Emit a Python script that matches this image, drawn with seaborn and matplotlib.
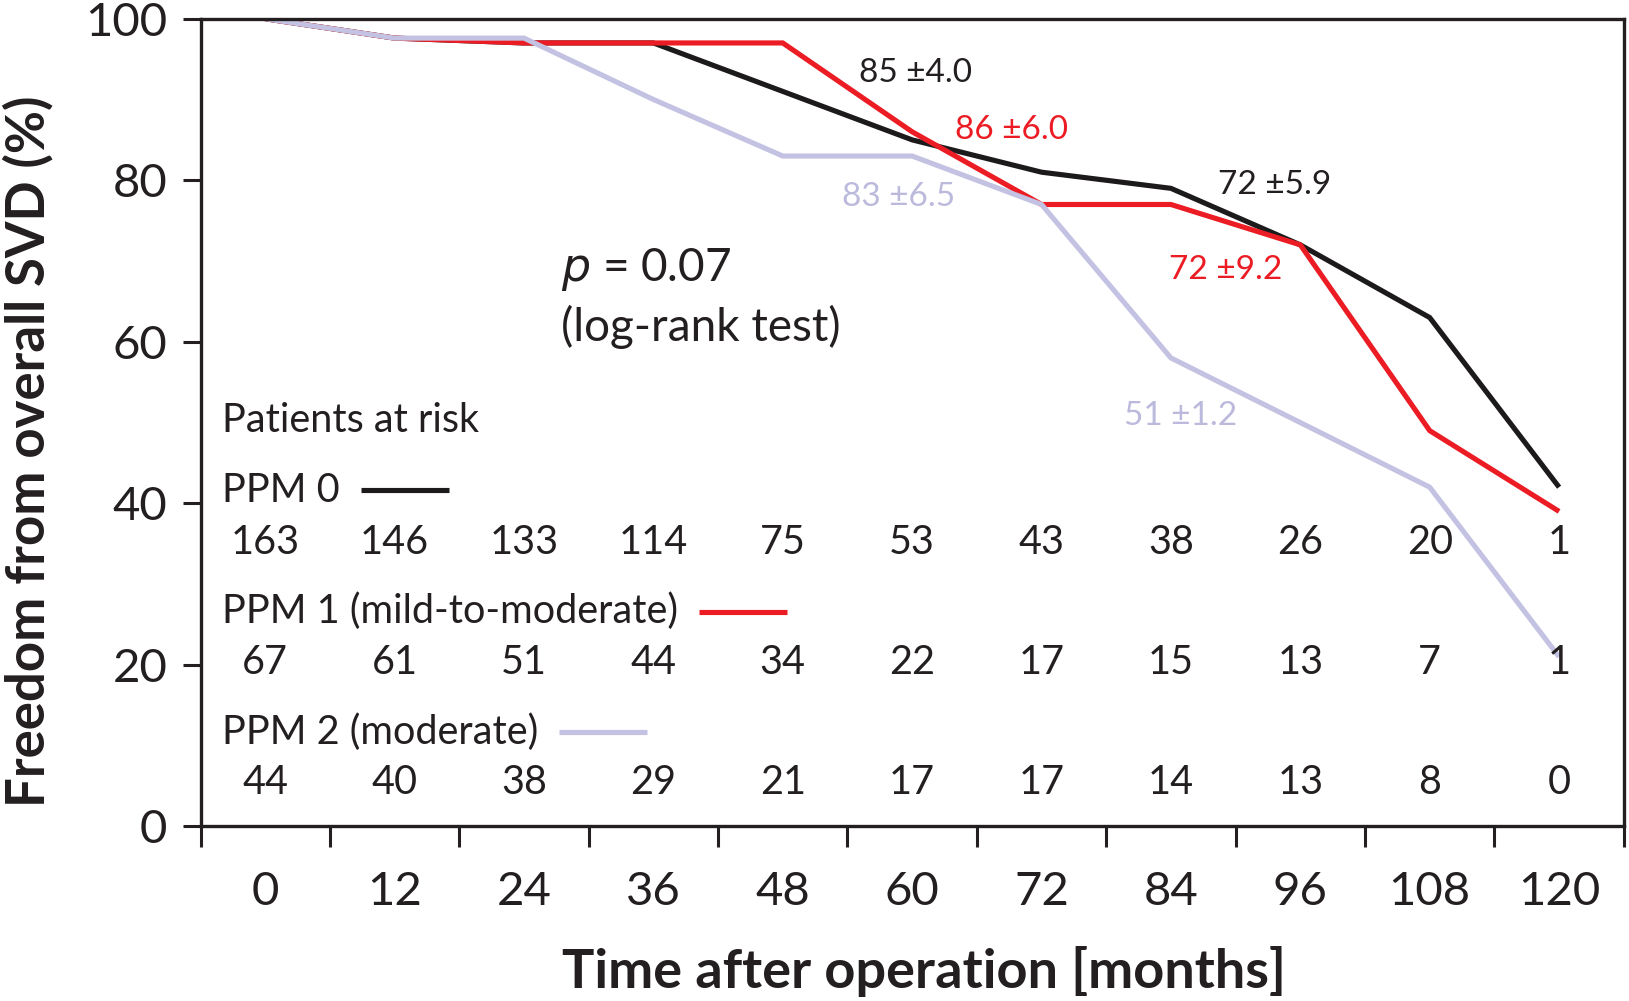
import matplotlib
matplotlib.use("Agg")
import matplotlib.pyplot as plt
import numpy as np
import pandas as pd
import seaborn as sns
from matplotlib.lines import Line2D

# ---------------- data ----------------
months = [0, 12, 24, 36, 48, 60, 72, 84, 96, 108, 120]
ppm0 = [100, 97.6, 97.0, 97.0, 91, 85, 81, 79, 72, 63, 42]
ppm1 = [100, 97.6, 97.0, 97.0, 97, 86, 77, 77, 72, 49, 39]
ppm2 = [100, 97.6, 97.6, 90, 83, 83, 77, 58, 50, 42, 21]
groups = ["PPM 0", "PPM 1 (mild-to-moderate)", "PPM 2 (moderate)"]

risk0 = [163, 146, 133, 114, 75, 53, 43, 38, 26, 20, 1]
risk1 = [67, 61, 51, 44, 34, 22, 17, 15, 13, 7, 1]
risk2 = [44, 40, 38, 29, 21, 17, 17, 14, 13, 8, 0]

y_ticks = [0, 20, 40, 60, 80, 100]
x_ticks = months

ann_text = ["85 \u00b14.0", "86 \u00b16.0", "83 \u00b16.5", "72 \u00b15.9", "72 \u00b19.2", "51 \u00b11.2"]
ann_x = [60.3, 69.2, 58.7, 93.6, 89.1, 84.9]
ann_y = [93.3, 86.2, 77.9, 79.4, 68.9, 50.8]
ann_group = [0, 1, 2, 0, 1, 2]

line_colors = ["#1c1a1b", "#ec1c24", "#c4c2e2"]
text_colors = ["#231f20", "#ec1c24", "#bcbadc"]

# ---------------- figure ----------------
sns.set_style("white")
plt.rcParams["font.family"] = ["Lato", "DejaVu Sans"]

fig, ax = plt.subplots(figsize=(16.29, 10.01), dpi=100)
fig.subplots_adjust(left=0.1231, right=0.9968, bottom=0.1744, top=0.9813)

df = pd.DataFrame({
    "month": months * 3,
    "value": ppm0 + ppm1 + ppm2,
    "group": [groups[0]] * len(months) + [groups[1]] * len(months) + [groups[2]] * len(months),
})
draw_order = [groups[0], groups[1], groups[2]]
sns.lineplot(data=df, x="month", y="value", hue="group", hue_order=draw_order,
             palette=dict(zip(groups, line_colors)), estimator=None, sort=False,
             linewidth=3.7, legend=False, ax=ax)
for ln in ax.lines:
    ln.set_solid_joinstyle("miter")
    ln.set_solid_capstyle("butt")

ax.set_xlim(-6, 126)
ax.set_ylim(0, 100)

# spines
for s in ax.spines.values():
    s.set_visible(True)
    s.set_linewidth(2.4)
    s.set_color("#231f20")

# ticks
ax.set_yticks(y_ticks)
ax.set_yticklabels([str(v) for v in y_ticks])
ax.tick_params(axis="y", direction="out", length=13, width=2.2, pad=11,
               labelsize=34, colors="#231f20", left=True)
ax.set_xticks(x_ticks)
ax.set_xticklabels([str(v) for v in x_ticks])
ax.set_xticks(np.arange(-6, 127, 12), minor=True)
ax.tick_params(axis="x", which="major", length=0, pad=32, labelsize=34, colors="#231f20")
ax.tick_params(axis="x", which="minor", direction="out", length=15, width=2.2,
               color="#231f20", bottom=True)

ax.set_xlabel("Time after operation [months]", fontsize=39, fontweight="bold", color="#231f20")
ax.set_ylabel("Freedom from overall SVD (%)", fontsize=38, fontweight="bold", color="#231f20")
ax.xaxis.set_label_coords(0.508, -0.148)
ax.yaxis.set_label_coords(-0.103, 0.465)

# survival annotations
for t, x, y, g in zip(ann_text, ann_x, ann_y, ann_group):
    ax.text(x, y, t, fontsize=24, color=text_colors[g], ha="center", va="center")

# p value
ax.text(27.4, 68.9, r"$\it{p}$ = 0.07", fontsize=33, color="#231f20", ha="left", va="center")
ax.text(27.4, 61.8, "(log-rank test)", fontsize=33, color="#231f20", ha="left", va="center")

# at-risk table
ax.text(-4.0, 50.2, "Patients at risk", fontsize=28.5, color="#231f20", ha="left", va="center")
label_y = [41.6, 26.6, 11.7]
row_y = [35.1, 20.3, 5.5]
risks = [risk0, risk1, risk2]
label_texts = []
for i in range(3):
    tx = ax.text(-4.0, label_y[i], groups[i], fontsize=28.5, color="#231f20", ha="left", va="center")
    label_texts.append(tx)
    for m, n in zip(months, risks[i]):
        ax.text(m, row_y[i], str(n), fontsize=28.5, color="#231f20", ha="center", va="center")

# legend swatches placed right after the group labels
fig.canvas.draw()
renderer = fig.canvas.get_renderer()
W, H = fig.bbox.width, fig.bbox.height
for i, tx in enumerate(label_texts):
    bb = tx.get_window_extent(renderer=renderer)
    ydisp = ax.transData.transform((0, label_y[i]))[1]
    x0 = bb.x1 + 21
    x1 = x0 + 88
    fig.add_artist(Line2D([x0 / W, x1 / W], [ydisp / H, ydisp / H], transform=fig.transFigure,
                          color=line_colors[i], linewidth=3.7, solid_capstyle="butt"))

fig.savefig("out.png", dpi=100)
